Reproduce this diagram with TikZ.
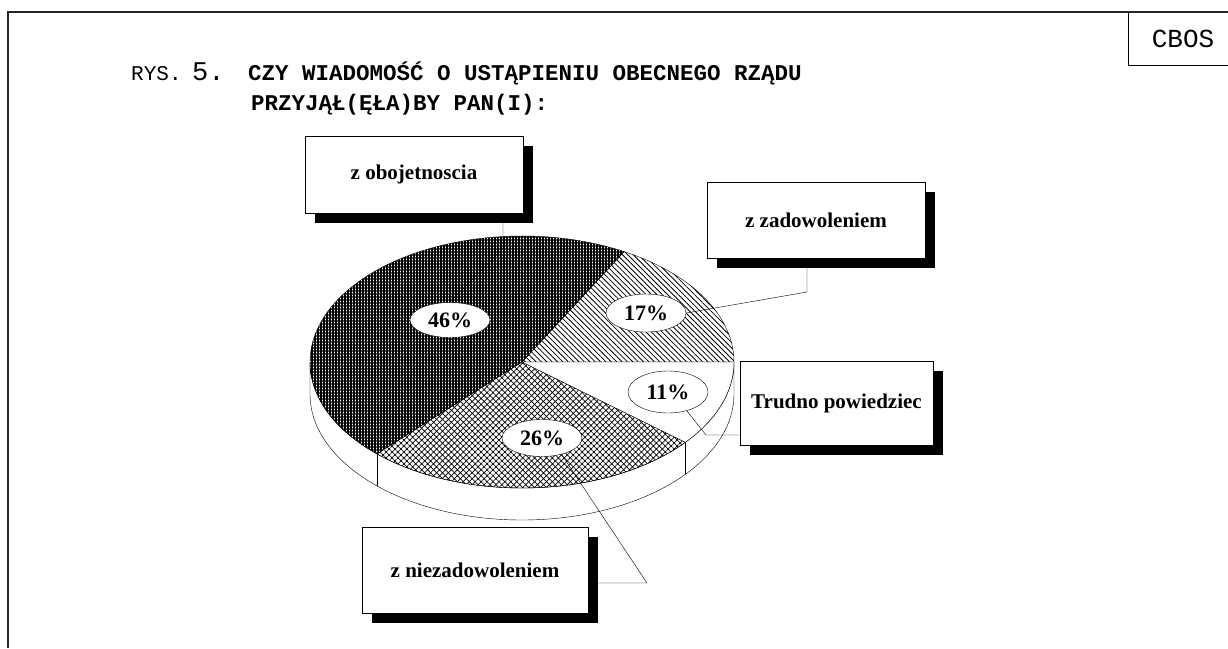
\documentclass[tikz,border=0pt]{standalone}
\usepackage{fontspec}
\setmainfont{Liberation Serif}
\setmonofont{Liberation Mono}
\usetikzlibrary{shapes.geometric,shadows,patterns.meta}

\begin{document}
\begin{tikzpicture}[x=1pt,y=1pt,
  pie/.style={x radius=212,y radius=126},
  box/.style={draw,fill=white,font=\bfseries\fontsize{21}{24}\selectfont,
    drop shadow={shadow xshift=10pt,shadow yshift=-10pt,fill=black,opacity=1}},
  pct/.style={ellipse,draw,fill=white,inner sep=0pt,minimum width=80,minimum height=38,
    font=\bfseries\fontsize{22}{24}\selectfont},
  title/.style={anchor=base west,inner sep=0pt,font=\ttfamily\bfseries\fontsize{22.5}{27}\selectfont}]
  \useasboundingbox (0,0) rectangle (1228,-648);

  % frame and CBOS tab
  \draw[line width=1.2pt,black!85] (8,-648) -- (8,-12) -- (1228,-12);
  \draw[line width=1pt] (1128,-12) -- (1128,-65) -- (1228,-65);
  \node[font=\ttfamily\fontsize{26}{30}\selectfont] (cbos) at (1183,-39) {CBOS};

  % title
  \node[title,font=\ttfamily\fontsize{21}{25}\selectfont] (rys) at (131,-80) {RYS.};
  \node[title,font=\ttfamily\fontsize{27}{30}\selectfont] (nr) at (192,-80) {5.};
  \node[title] (tyt1) at (248,-80) {CZY WIADOMOŚĆ O USTĄPIENIU OBECNEGO RZĄDU};
  \node[title] (tyt2) at (251,-110) {PRZYJĄŁ(ĘŁA)BY PAN(I):};

  % side of the pie
  \draw[fill=white] (310,-362) -- (310,-394) arc[pie,start angle=180,end angle=360]
    -- (734,-362) arc[pie,start angle=0,end angle=-180] -- cycle;
  \draw (376.9,-453.9) -- ++(0,-32);
  \draw (685.3,-442.3) -- ++(0,-32);

  % slices
  \draw[pattern={Lines[angle=-45,distance=3.8pt,line width=.8pt]}]
    (522,-362) -- ++(0:212pt and 126pt) arc[pie,start angle=0,end angle=61.2] -- cycle;
  \draw[pattern={Hatch[angle=0,distance=3pt,line width=1.2pt]}]
    (522,-362) -- ++(61.2:212pt and 126pt) arc[pie,start angle=61.2,end angle=226.8] -- cycle;
  \draw[pattern={Hatch[angle=45,distance=4.2pt,line width=.7pt]}]
    (522,-362) -- ++(226.8:212pt and 126pt) arc[pie,start angle=226.8,end angle=320.4] -- cycle;
  \draw[fill=white]
    (522,-362) -- ++(320.4:212pt and 126pt) arc[pie,start angle=320.4,end angle=360] -- cycle;

  % labels
  \node[pct,minimum height=35] (p46) at (450,-320) {46\%};
  \node[pct] (p17) at (646,-313) {17\%};
  \node[pct,minimum height=42] (p11) at (668,-392) {11\%};
  \node[pct,minimum height=37] (p26) at (542,-438) {26\%};

  \node[box,minimum width=218,minimum height=77] (obo) at (414,-174.5) {z obojetnoscia};
  \node[box,minimum width=218,minimum height=76] (zad) at (816,-220) {z zadowoleniem};
  \node[box,minimum width=193,minimum height=84] (tru) at (836.5,-403) {Trudno powiedziec};
  \node[box,minimum width=226,minimum height=86] (nie) at (475,-570) {z niezadowoleniem};

  % leaders
  \coordinate (k46) at (503,-248);
  \coordinate (k17) at (807,-292);
  \coordinate (k11) at (706,-435);
  \coordinate (k26) at (647,-583);
  \draw (p46.north) -- (k46) -- (k46 |- obo.south);
  \draw (p17.east) -- (k17) -- (k17 |- zad.south);
  \draw (p11.-45) -- (k11) -- (k11 -| tru.west);
  \draw (p26.-40) -- (k26) -- (k26 -| nie.east);
\end{tikzpicture}
\end{document}
